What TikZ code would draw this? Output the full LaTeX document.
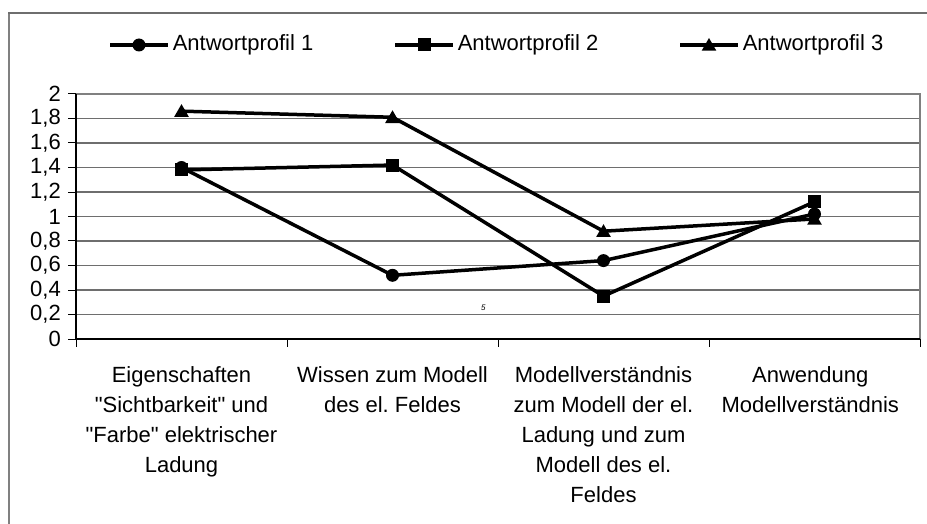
\documentclass[tikz,border=0pt]{standalone}
\usepackage{fontspec}
\setmainfont{Liberation Sans}
\usetikzlibrary{positioning, shapes.geometric}
\frenchspacing

\begin{document}
\begin{tikzpicture}[x=1pt, y=-1pt,
    every node/.style={font=\fontsize{22}{30}\selectfont},
    profile/.style={line width=3.5pt, black},
    circmark/.style={circle, fill=black, inner sep=0pt, minimum size=13pt},
    squaremark/.style={rectangle, fill=black, inner sep=0pt, minimum size=13pt},
    trimark/.style={regular polygon, regular polygon sides=3, fill=black, inner sep=0pt, minimum size=17pt, yshift=-1.5pt}]
    % Define colours
    \definecolor{frameColour}{HTML}{808080}
    \definecolor{gridColour}{HTML}{6E6E6E}

    % Page size
    \useasboundingbox (0,0) rectangle (927,524);

    % Outer frame
    \draw[frameColour, line width=2pt] (9,13) -- (9,524);
    \draw[gridColour, line width=1.5pt] (8,13) -- (927,13);

    % Legend
    \coordinate (legA) at (110,45);
    \coordinate (legB) at (395,45);
    \coordinate (legC) at (680,45);
    \draw[profile] (legA) -- ++(58,0) node[right=3pt, inner sep=0pt] (legTextA) {Antwortprofil 1};
    \draw[profile] (legB) -- ++(58,0) node[right=3pt, inner sep=0pt] (legTextB) {Antwortprofil 2};
    \draw[profile] (legC) -- ++(58,0) node[right=3pt, inner sep=0pt] (legTextC) {Antwortprofil 3};
    \node[circmark] (legMarkA) at ([xshift=29pt]legA) {};
    \node[squaremark] (legMarkB) at ([xshift=29pt]legB) {};
    \node[trimark] (legMarkC) at ([xshift=29pt]legC) {};

    % Plot area in data units
    \begin{scope}[shift={(76,339)}, x=211pt, y=122.5pt]
        % Draw grid
        \foreach \v in {0.2,0.4,...,1.9}
            \draw[gridColour, line width=1.2pt] (0,\v) -- (4,\v);
        \draw[frameColour, line width=2pt] (0,2) -- (4,2) -- (4,0);

        % Draw axes
        \draw[black, line width=1.2pt] (0,2) -- (0,0) -- (4,0);

        % Label y-axis
        \foreach \v/\l in {0/0, 0.2/{0,2}, 0.4/{0,4}, 0.6/{0,6}, 0.8/{0,8}, 1/1, 1.2/{1,2}, 1.4/{1,4}, 1.6/{1,6}, 1.8/{1,8}, 2/2} {
            \draw[black, line width=1pt] (0,\v) -- ++(-8pt,0);
            \node[anchor=east, inner sep=0pt] at ([xshift=-15pt]0,\v) {\l};
        }

        % Ticks on x-axis
        \foreach \x in {0,...,4}
            \draw[black, line width=1pt] (\x,0) -- ++(0,-8pt);

        % Category labels
        \node[anchor=north, align=center] (catA) at ([yshift=-24pt]0.5,0) {Eigenschaften\\\textquotedbl Sichtbarkeit\textquotedbl{} und\\\textquotedbl Farbe\textquotedbl{} elektrischer\\Ladung};
        \node[anchor=north, align=center] (catB) at ([yshift=-24pt]1.5,0) {Wissen zum Modell\\des el. Feldes};
        \node[anchor=north, align=center] (catC) at ([yshift=-24pt]2.5,0) {Modellverständnis\\zum Modell der el.\\Ladung und zum\\Modell des el.\\Feldes};
        \node[anchor=north, align=center] (catD) at ([yshift=-24pt]3.48,0) {Anwendung\\Modellverständnis};

        % Data points
        \foreach \i/\a/\b/\c [count=\n] in {0.5/1.40/1.38/1.86, 1.5/0.52/1.42/1.81, 2.5/0.64/0.35/0.88, 3.5/1.02/1.12/0.98} {
            \coordinate (pA\n) at (\i,\a);
            \coordinate (pB\n) at (\i,\b);
            \coordinate (pC\n) at (\i,\c);
        }

        % Draw the profiles
        \draw[profile, line join=round] (pC1) -- (pC2) -- (pC3) -- (pC4);
        \draw[profile, line join=round] (pB1) -- (pB2) -- (pB3) -- (pB4);
        \draw[profile, line join=round] (pA1) -- (pA2) -- (pA3) -- (pA4);
        \foreach \n in {1,...,4} {
            \node[trimark] (mC\n) at (pC\n) {};
            \node[squaremark] (mB\n) at (pB\n) {};
            \node[circmark] (mA\n) at (pA\n) {};
        }

        % Stray mark
        \node[font=\fontsize{8}{8}\selectfont\itshape, inner sep=0pt] (stray) at ([yshift=-1pt]1.93,0.26) {5};
    \end{scope}

\end{tikzpicture}
\end{document}
